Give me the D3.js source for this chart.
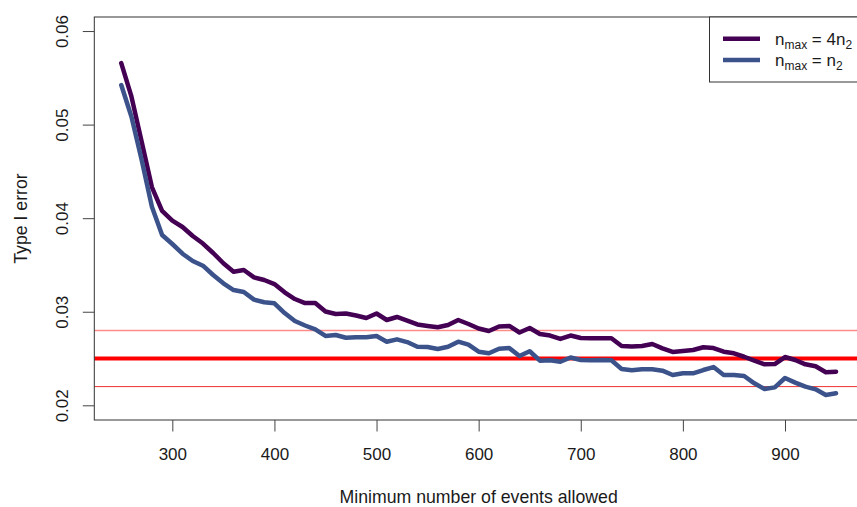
<!DOCTYPE html>
<html>
<head>
<meta charset="utf-8">
<script src="https://cdn.jsdelivr.net/npm/d3@7/dist/d3.min.js"></script>
<style>
  body { margin: 0; background: #fff; }
  svg text { font-family: "Liberation Sans", Arial, sans-serif; fill: #1a1a1a; }
</style>
</head>
<body>
<div id="chart"></div>
<script>
// minimum number of events allowed (x)
const minEvents = [250, 260, 270, 280, 290, 300, 310, 320, 330, 340,
  350, 360, 370, 380, 390, 400, 410, 420, 430, 440,
  450, 460, 470, 480, 490, 500, 510, 520, 530, 540,
  550, 560, 570, 580, 590, 600, 610, 620, 630, 640,
  650, 660, 670, 680, 690, 700, 710, 720, 730, 740,
  750, 760, 770, 780, 790, 800, 810, 820, 830, 840,
  850, 860, 870, 880, 890, 900, 910, 920, 930, 940, 950];

// type I error, n_max = 4 n2
const errMax4n2 = [0.05658, 0.05298, 0.04817, 0.04333, 0.04078, 0.03974, 0.03906, 0.03809, 0.03729, 0.03628,
  0.03518, 0.03428, 0.03446, 0.03368, 0.03339, 0.03296, 0.03208, 0.03136, 0.03093, 0.03093,
  0.03002, 0.02976, 0.02981, 0.02960, 0.02933, 0.02981, 0.02912, 0.02944, 0.02906, 0.02864,
  0.02848, 0.02834, 0.02858, 0.02912, 0.02869, 0.02821, 0.02794, 0.02842, 0.02848, 0.02778,
  0.02826, 0.02762, 0.02746, 0.02709, 0.02746, 0.02719, 0.02716, 0.02716, 0.02716, 0.02634,
  0.02628, 0.02634, 0.02655, 0.02609, 0.02570, 0.02580, 0.02591, 0.02620, 0.02612, 0.02573,
  0.02556, 0.02519, 0.02477, 0.02438, 0.02441, 0.02516, 0.02484, 0.02438, 0.02417, 0.02353, 0.02359];

// type I error, n_max = n2
const errMaxN2 = [0.05423, 0.05084, 0.04622, 0.04122, 0.03820, 0.03724, 0.03620, 0.03542, 0.03492, 0.03393,
  0.03304, 0.03232, 0.03211, 0.03129, 0.03101, 0.03090, 0.02986, 0.02901, 0.02853, 0.02812,
  0.02741, 0.02751, 0.02722, 0.02727, 0.02727, 0.02741, 0.02680, 0.02705, 0.02676, 0.02626,
  0.02623, 0.02602, 0.02626, 0.02680, 0.02648, 0.02573, 0.02556, 0.02605, 0.02612, 0.02527,
  0.02578, 0.02477, 0.02482, 0.02466, 0.02511, 0.02484, 0.02481, 0.02484, 0.02481, 0.02388,
  0.02374, 0.02385, 0.02385, 0.02370, 0.02324, 0.02342, 0.02342, 0.02377, 0.02409, 0.02324,
  0.02324, 0.02313, 0.02235, 0.02174, 0.02192, 0.02292, 0.02242, 0.02199, 0.02171, 0.02110, 0.02128];

const xTicks = [300, 400, 500, 600, 700, 800, 900];
const yTicks = [0.02, 0.03, 0.04, 0.05, 0.06];
const yTickLabels = ['0.02', '0.03', '0.04', '0.05', '0.06'];

// horizontal reference levels
const refLevels = [0.028, 0.025, 0.022];
const refColors = ['#ff8a8a', '#ff0000', '#f03030'];
const refWidths = [1.5, 4, 1];

const seriesNames = [['4n', '2'], ['n', '2']];
const seriesColors = ['#440154', '#3b528b'];

const width = 857, height = 507;
const plot = {left: 94.3, right: 863, top: 17, bottom: 420};

const svg = d3.select('#chart').append('svg')
  .attr('width', width)
  .attr('height', height);

const x = d3.scaleLinear().domain([223.6, 976.4]).range([plot.left, plot.right]);
const y = d3.scaleLinear().domain([0.01843, 0.0615]).range([plot.bottom, plot.top]);

// reference lines
svg.append('g').selectAll('line')
  .data(refLevels)
  .enter().append('line')
  .attr('x1', plot.left)
  .attr('x2', plot.right)
  .attr('y1', d => y(d))
  .attr('y2', d => y(d))
  .attr('stroke', (d, i) => refColors[i])
  .attr('stroke-width', (d, i) => refWidths[i]);

// the two curves
const line = d3.line()
  .x(d => x(d[0]))
  .y(d => y(d[1]));

[errMax4n2, errMaxN2].forEach((vals, i) => {
  svg.append('path')
    .datum(minEvents.map((m, j) => [m, vals[j]]))
    .attr('fill', 'none')
    .attr('stroke', seriesColors[i])
    .attr('stroke-width', 4.5)
    .attr('stroke-linejoin', 'round')
    .attr('stroke-linecap', 'round')
    .attr('d', line);
});

// box
svg.append('rect')
  .attr('x', plot.left)
  .attr('y', plot.top)
  .attr('width', plot.right - plot.left)
  .attr('height', plot.bottom - plot.top)
  .attr('fill', 'none')
  .attr('stroke', '#333')
  .attr('stroke-width', 1);

// x axis
const xAxis = svg.append('g')
  .attr('transform', `translate(0, ${plot.bottom})`)
  .call(d3.axisBottom(x).tickValues(xTicks).tickSize(11.5).tickPadding(15).tickFormat(d3.format('d')));
xAxis.select('.domain').remove();
xAxis.selectAll('line').attr('stroke', '#444');
xAxis.selectAll('text').attr('font-size', 17).attr('fill', '#1a1a1a')
  .attr('dy', null).attr('y', 39.5);

// y axis, labels rotated like base R
const yAxis = svg.append('g')
  .attr('transform', `translate(${plot.left}, 0)`)
  .call(d3.axisLeft(y).tickValues(yTicks).tickSize(11.5).tickFormat((d, i) => yTickLabels[i]));
yAxis.select('.domain').remove();
yAxis.selectAll('line').attr('stroke', '#444');
yAxis.selectAll('text')
  .attr('font-size', 17)
  .attr('fill', '#1a1a1a')
  .attr('x', null).attr('dy', null)
  .attr('text-anchor', 'middle')
  .attr('transform', 'translate(-26,0) rotate(-90)');

// axis titles
svg.append('text')
  .attr('x', (plot.left + plot.right) / 2)
  .attr('y', 502.5)
  .attr('text-anchor', 'middle')
  .attr('font-size', 17.7)
  .text('Minimum number of events allowed');

svg.append('text')
  .attr('transform', `translate(26.5, ${(plot.top + plot.bottom) / 2}) rotate(-90)`)
  .attr('text-anchor', 'middle')
  .attr('font-size', 17.7)
  .text('Type I error');

// legend
const legend = svg.append('g');
legend.append('rect')
  .attr('x', 709.5)
  .attr('y', plot.top)
  .attr('width', 170)
  .attr('height', 65)
  .attr('fill', '#fff')
  .attr('stroke', '#333')
  .attr('stroke-width', 1);

seriesNames.forEach((nm, i) => {
  const ly = 38.7 + i * 21.3;
  legend.append('line')
    .attr('x1', 723).attr('x2', 760)
    .attr('y1', ly).attr('y2', ly)
    .attr('stroke', seriesColors[i])
    .attr('stroke-width', 4.5);
  const t = legend.append('text')
    .attr('x', 775)
    .attr('y', ly + 6)
    .attr('font-size', 17);
  t.append('tspan').text('n');
  t.append('tspan').attr('font-size', 12).attr('dy', 4).text('max');
  t.append('tspan').attr('dy', -4).text(' = ' + nm[0]);
  t.append('tspan').attr('font-size', 12).attr('dy', 4).text(nm[1]);
});
</script>
</body>
</html>
